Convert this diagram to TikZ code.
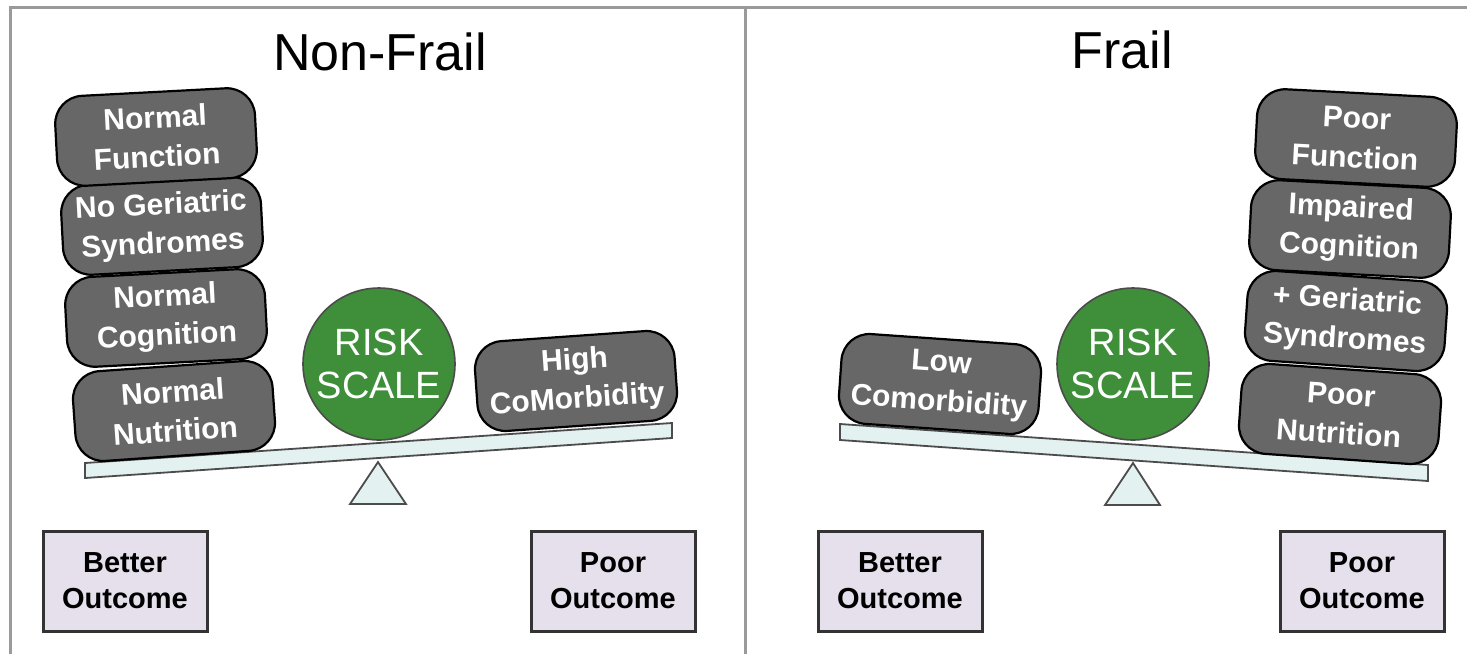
\documentclass[tikz,border=0pt]{standalone}
\usepackage{fontspec}
\setmainfont{Liberation Sans}
\definecolor{blockgray}{HTML}{676767}
\definecolor{riskgreen}{HTML}{3E8E3A}
\definecolor{beamfill}{HTML}{E3F1F1}
\definecolor{outfill}{HTML}{E6E0EC}
\definecolor{framegray}{HTML}{9A9A9A}
\begin{document}
\begin{tikzpicture}[x=0.5pt,y=-0.5pt,
  weight/.style={draw=black, line width=1.1pt, fill=blockgray, rounded corners=14pt,
    minimum width=100pt, minimum height=45pt, inner sep=2pt, align=center,
    text=white, font=\fontsize{15}{19.5}\selectfont\bfseries},
  risk/.style={circle, draw=black!70, line width=0.8pt, fill=riskgreen, minimum size=76pt,
    inner sep=0pt, align=center, text=white, font=\fontsize{19}{21.5}\selectfont},
  outcome/.style={draw=black!80, line width=1.5pt, fill=outfill, minimum width=82pt,
    minimum height=50pt, inner sep=2pt, align=center, font=\fontsize{14.5}{18}\selectfont\bfseries},
  beam/.style={draw=black!70, line width=0.9pt, fill=beamfill},
  fulcrum/.style={draw=black!70, line width=0.9pt, fill=beamfill},
  title/.style={font=\fontsize{26}{30}\selectfont},
  frame/.style={draw=framegray, line width=1.5pt}]
\useasboundingbox (0,0) rectangle (1467,654);
% frame
\draw[frame] (10,654) -- (10,7) -- (1467,7);
\draw[frame] (745,7) -- (745,654);

% ===== Left panel =====
\node[title] (t1) at (380,52) {Non-Frail};
\draw[beam] (85,463) -- (672,423) -- (672,438) -- (85,478) -- cycle;
\draw[fulcrum] (378,462) -- (406,504) -- (350,504) -- cycle;
\node[risk] (r1) at (379,364) {RISK\\SCALE};
\node[weight, rotate=4] (l4) at (174,411) {Normal\\Nutrition};
\node[weight, rotate=3] (l3) at (166,318) {Normal\\Cognition};
\node[weight, rotate=3] (l2) at (162,226) {No Geriatric\\Syndromes};
\node[weight, rotate=3] (l1) at (156,137) {Normal\\Function};
\node[weight, rotate=4] (hc) at (576,381) {High\\CoMorbidity};
\node[outcome] (bo1) at (125,581) {Better\\Outcome};
\node[outcome] (po1) at (613,581) {Poor\\Outcome};

% ===== Right panel =====
\node[title] (t2) at (1122,50) {Frail};
\draw[beam] (840,424) -- (1428,465) -- (1428,481) -- (840,440) -- cycle;
\draw[fulcrum] (1133,463) -- (1160,505) -- (1105,505) -- cycle;
\node[risk] (r2) at (1133,364) {RISK\\SCALE};
\node[weight, rotate=-4] (lc) at (940,384) {Low\\Comorbidity};
\node[weight, rotate=-4] (r4) at (1340,414) {Poor\\Nutrition};
\node[weight, rotate=-4] (r3) at (1346,321) {+ Geriatric\\Syndromes};
\node[weight, rotate=-3] (r2b) at (1350,229) {Impaired\\Cognition};
\node[weight, rotate=-3] (r1b) at (1356,138) {Poor\\Function};
\node[outcome] (bo2) at (900,581) {Better\\Outcome};
\node[outcome] (po2) at (1362,581) {Poor\\Outcome};
\end{tikzpicture}
\end{document}
